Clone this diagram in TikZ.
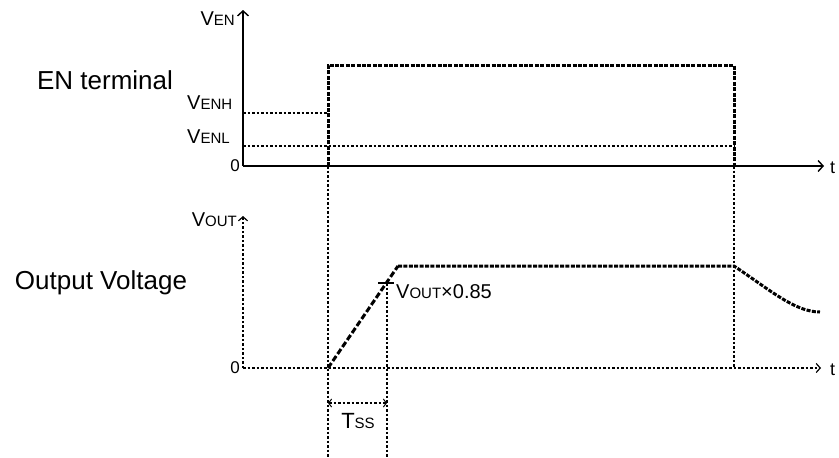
\documentclass[tikz,border=0pt]{standalone}
\usepackage{fontspec}
\setmainfont{Liberation Sans}
\usepackage{tikz}
\usetikzlibrary{arrows.meta,positioning}
\newcommand{\smc}[1]{{\fontsize{15}{15}\selectfont #1}}
\tikzset{
  axis/.style={line width=1.6pt, -{Straight Barb[length=5pt,width=11pt,line width=1.4pt]}},
  daxis/.style={line width=1.4pt, dash pattern=on 2.5pt off 2pt, -{Straight Barb[length=4pt,width=9pt,line width=1.2pt]}},
  guide/.style={line width=1.2pt, dash pattern=on 2.5pt off 2pt},
  sig/.style={line width=3pt, dash pattern=on 4pt off 1.4pt},
  ramp/.style={line width=3pt, dash pattern=on 6pt off 2.5pt},
  lbl/.style={inner sep=1pt, font=\fontsize{20}{22}\selectfont},
  title/.style={inner sep=0pt, font=\fontsize{26}{28}\selectfont}
}

\begin{document}
\begin{tikzpicture}[x=1pt,y=-1pt]
  \useasboundingbox (0,0) rectangle (839,458);
  % key points
  \coordinate (o1) at (243,166);
  \coordinate (v1) at (243,10);
  \coordinate (t1) at (824,166);
  \coordinate (o2) at (243,368);
  \coordinate (v2) at (243,216);
  \coordinate (t2) at (821,368);
  \coordinate (rise) at (328,166);
  \coordinate (risetop) at (328,65);
  \coordinate (fall) at (734,166);
  \coordinate (falltop) at (734,65);
  \coordinate (enh) at (243,113);
  \coordinate (enhx) at (328,113);
  \coordinate (enl) at (243,146);
  \coordinate (enlx) at (734,146);
  \coordinate (rampst) at (328,368);
  \coordinate (rampend) at (398,266);
  \coordinate (flatend) at (734,266);
  \coordinate (tailend) at (820,312);
  \coordinate (mark) at (387,283);
  \coordinate (bot1) at (328,458);
  \coordinate (bot2) at (387,458);
  \coordinate (fallbot) at (734,368);
  \coordinate (ssa) at (328,403);
  \coordinate (ssb) at (387,403);

  % EN terminal
  \draw[axis] (o1) -- (v1);
  \draw[axis] (o1) -- (t1);
  \draw[guide] (enh) -- (enhx);
  \draw[guide] (enl) -- (enlx);
  \draw[sig] (rise) -- (risetop) -- (falltop) -- (fall);

  % guides down
  \draw[guide] (rise) -- (bot1);
  \draw[guide] (fall) -- (fallbot);
  \draw[guide] (mark) -- (bot2);

  % output voltage
  \draw[daxis] (o2) -- (v2);
  \draw[daxis] (o2) -- (t2);
  \draw[ramp] (rampst) -- (rampend);
  \draw[sig] (rampend) -- (flatend) .. controls (770,290) and (795,312) .. (tailend);
  \draw[line width=1.2pt] ([xshift=-9pt]mark) -- ([xshift=7pt]mark);
  \draw[guide, {Straight Barb[length=3pt,width=8pt,line width=1pt]}-{Straight Barb[length=3pt,width=8pt,line width=1pt]}] (ssa) -- (ssb);

  % labels
  \node[title] (entitle) at (105,80) {EN terminal};
  \node[title] (outtitle) at (101,283) {Output Voltage};
  \node[lbl, anchor=east] (ven) at (236,19) {V\smc{EN}};
  \node[lbl, anchor=west] (venh) at (186,103) {V\smc{ENH}};
  \node[lbl, anchor=west] (venl) at (186,137) {V\smc{ENL}};
  \node[lbl, anchor=east, font=\fontsize{17}{19}\selectfont] (zero1) at (241,166) {0};
  \node[lbl, anchor=east] (vout) at (238,220) {V\smc{OUT}};
  \node[lbl, anchor=east, font=\fontsize{17}{19}\selectfont] (zero2) at (241,368) {0};
  \node[lbl, anchor=west] (pct) at (395,292) {V\smc{OUT}×0.85};
  \node[lbl, font=\fontsize{22}{24}\selectfont] (tss) at (358,421) {T\smc{SS}};
  \node[lbl, inner sep=0pt, anchor=west, font=\fontsize{18}{20}\selectfont] (tlab1) at (830,168) {t};
  \node[lbl, inner sep=0pt, anchor=west, font=\fontsize{18}{20}\selectfont] (tlab2) at (830,370) {t};
\end{tikzpicture}
\end{document}
